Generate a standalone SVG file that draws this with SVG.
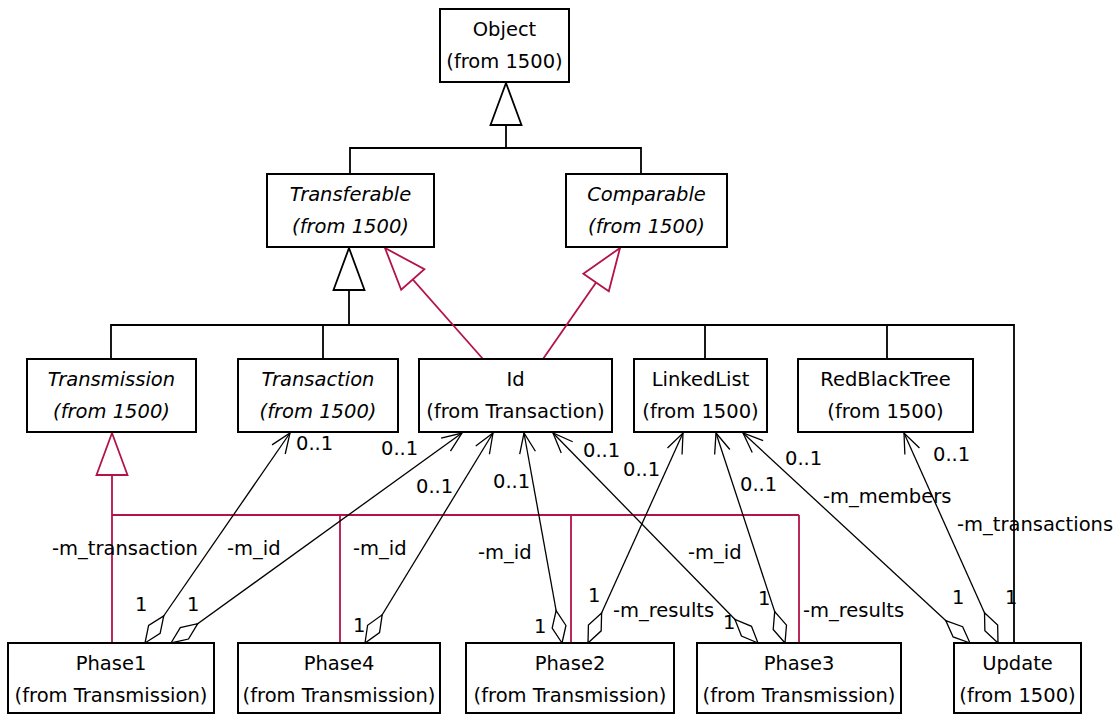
<svg xmlns="http://www.w3.org/2000/svg" width="1117" height="715" viewBox="0 0 1117 715">
<style>
.box{fill:#fff;stroke:#000;stroke-width:2}
.t{font-family:"DejaVu Sans",sans-serif;font-size:19.5px;fill:#000;text-anchor:middle}
.i{font-style:italic}
.lbl{font-family:"DejaVu Sans",sans-serif;font-size:19.5px;fill:#000}
.gen{fill:none;stroke:#000;stroke-width:1.8}
.real{fill:none;stroke:#B4124A;stroke-width:1.8}
.assoc{fill:none;stroke:#000;stroke-width:1.3;marker-start:url(#dia);marker-end:url(#arr)}
</style>
<defs>
<marker id="arr" markerUnits="userSpaceOnUse" orient="auto" viewBox="-30 -15 35 30" markerWidth="35" markerHeight="30" refX="0" refY="0"><path d="M-20,-8 L0,0 L-20,8" fill="none" stroke="#000" stroke-width="1.3"/></marker>
<marker id="dia" markerUnits="userSpaceOnUse" orient="auto" viewBox="-5 -12 45 24" markerWidth="45" markerHeight="24" refX="0" refY="0"><path d="M0,0 L16.5,-7 L33,0 L16.5,7 Z" fill="#fff" stroke="#000" stroke-width="1.3"/></marker>
<marker id="tri" markerUnits="userSpaceOnUse" orient="auto" viewBox="-50 -20 55 40" markerWidth="55" markerHeight="40" refX="0" refY="0"><path d="M0,0 L-42,-15.5 L-42,15.5 Z" fill="#fff" stroke="#000" stroke-width="1.8"/></marker>
<marker id="trir" markerUnits="userSpaceOnUse" orient="auto" viewBox="-50 -20 55 40" markerWidth="55" markerHeight="40" refX="0" refY="0"><path d="M0,0 L-42,-15.5 L-42,15.5 Z" fill="#fff" stroke="#B4124A" stroke-width="1.8"/></marker>
</defs>

<g id="connectors">
  <!-- generalization to Object -->
  <path class="gen" d="M350,174 L350,148 L641,148 L641,174"/>
  <path class="gen" d="M506,148 L506,83" marker-end="url(#tri)"/>
  <!-- generalization to Transferable -->
  <path class="gen" d="M111,359 L111,325 L1014,325 L1014,643"/>
  <path class="gen" d="M323,325 L323,359 M705,325 L705,359 M887,325 L887,359"/>
  <path class="gen" d="M349,325 L349,248" marker-end="url(#tri)"/>
  <!-- realizations from Id -->
  <path class="real" d="M483,359 L385,248" marker-end="url(#trir)"/>
  <path class="real" d="M543,359 L620,248" marker-end="url(#trir)"/>
  <!-- generalization to Transmission -->
  <path class="real" d="M112,515 L799,515 M340,515 L340,643 M571,515 L571,643 M799,515 L799,643"/>
  <path class="real" d="M112,643 L112,433" marker-end="url(#trir)"/>
  <!-- associations -->
  <path class="assoc" d="M145,643 L290,433"/>
  <path class="assoc" d="M171,643 L462,433"/>
  <path class="assoc" d="M365,643 L493,433"/>
  <path class="assoc" d="M562,643 L524,433"/>
  <path class="assoc" d="M758,643 L553,433"/>
  <path class="assoc" d="M588,643 L683,433"/>
  <path class="assoc" d="M785,643 L716,433"/>
  <path class="assoc" d="M970,643 L743,433"/>
  <path class="assoc" d="M998,643 L904,433"/>
  <!-- labels -->
  <text class="lbl" x="296" y="450">0..1</text>
  <text class="lbl" x="381" y="455">0..1</text>
  <text class="lbl" x="416" y="493">0..1</text>
  <text class="lbl" x="493" y="488">0..1</text>
  <text class="lbl" x="583" y="457">0..1</text>
  <text class="lbl" x="623" y="476">0..1</text>
  <text class="lbl" x="740" y="491">0..1</text>
  <text class="lbl" x="785" y="465">0..1</text>
  <text class="lbl" x="933" y="461">0..1</text>
  <text class="lbl" x="135" y="611">1</text>
  <text class="lbl" x="187" y="611">1</text>
  <text class="lbl" x="353" y="632">1</text>
  <text class="lbl" x="534" y="633">1</text>
  <text class="lbl" x="588" y="602">1</text>
  <text class="lbl" x="723" y="629">1</text>
  <text class="lbl" x="758" y="605">1</text>
  <text class="lbl" x="952" y="604">1</text>
  <text class="lbl" x="1005" y="604">1</text>
  <text class="lbl" x="52" y="555">-m_transaction</text>
  <text class="lbl" x="227" y="555">-m_id</text>
  <text class="lbl" x="353" y="555">-m_id</text>
  <text class="lbl" x="478" y="559">-m_id</text>
  <text class="lbl" x="688" y="559">-m_id</text>
  <text class="lbl" x="613" y="617">-m_results</text>
  <text class="lbl" x="803" y="617">-m_results</text>
  <text class="lbl" x="823" y="503">-m_members</text>
  <text class="lbl" x="957" y="531">-m_transactions</text>
</g>

<g id="Object"><rect class="box" x="440" y="9" width="129" height="73"/><text class="t" x="504.5" y="36">Object</text><text class="t" x="504.5" y="68">(from 1500)</text></g>
<g id="Transferable"><rect class="box" x="267" y="174" width="167" height="73"/><text class="t i" x="350.5" y="201">Transferable</text><text class="t i" x="350.5" y="233">(from 1500)</text></g>
<g id="Comparable"><rect class="box" x="566" y="174" width="161" height="73"/><text class="t i" x="646.5" y="201">Comparable</text><text class="t i" x="646.5" y="233">(from 1500)</text></g>
<g id="Transmission"><rect class="box" x="27" y="359" width="169" height="73"/><text class="t i" x="111.5" y="386">Transmission</text><text class="t i" x="111.5" y="418">(from 1500)</text></g>
<g id="Transaction"><rect class="box" x="238" y="359" width="160" height="73"/><text class="t i" x="318" y="386">Transaction</text><text class="t i" x="318" y="418">(from 1500)</text></g>
<g id="Id"><rect class="box" x="419" y="359" width="193" height="73"/><text class="t" x="515.5" y="386">Id</text><text class="t" x="515.5" y="418">(from Transaction)</text></g>
<g id="LinkedList"><rect class="box" x="634" y="359" width="133" height="73"/><text class="t" x="700.5" y="386">LinkedList</text><text class="t" x="700.5" y="418">(from 1500)</text></g>
<g id="RedBlackTree"><rect class="box" x="798" y="359" width="175" height="73"/><text class="t" x="885.5" y="386">RedBlackTree</text><text class="t" x="885.5" y="418">(from 1500)</text></g>
<g id="Phase1"><rect class="box" x="8" y="643" width="206" height="70"/><text class="t" x="111" y="670">Phase1</text><text class="t" x="111" y="702">(from Transmission)</text></g>
<g id="Phase4"><rect class="box" x="238" y="643" width="202" height="70"/><text class="t" x="339" y="670">Phase4</text><text class="t" x="339" y="702">(from Transmission)</text></g>
<g id="Phase2"><rect class="box" x="466" y="643" width="208" height="70"/><text class="t" x="570" y="670">Phase2</text><text class="t" x="570" y="702">(from Transmission)</text></g>
<g id="Phase3"><rect class="box" x="697" y="643" width="204" height="70"/><text class="t" x="799" y="670">Phase3</text><text class="t" x="799" y="702">(from Transmission)</text></g>
<g id="Update"><rect class="box" x="954" y="643" width="127" height="70"/><text class="t" x="1017.5" y="670">Update</text><text class="t" x="1017.5" y="702">(from 1500)</text></g>
</svg>
